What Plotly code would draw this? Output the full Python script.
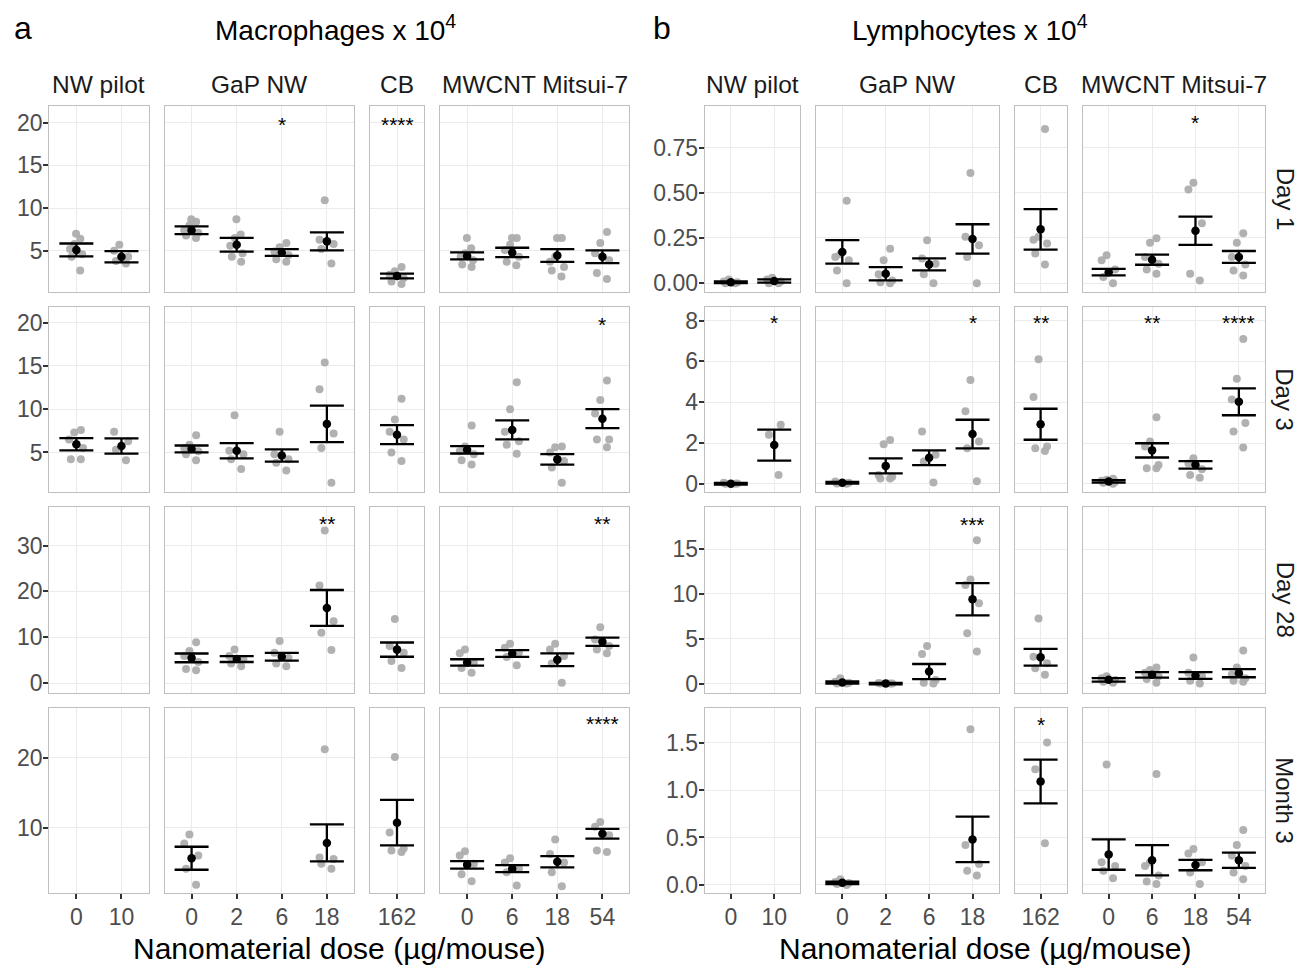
import plotly.graph_objects as go

# ---------------- categories / labels ----------------
GROUPS = ["NW pilot", "GaP NW", "CB", "MWCNT Mitsui-7"]
GROUP_DOSES = [["0", "10"], ["0", "2", "6", "18"], ["162"], ["0", "6", "18", "54"]]
TIMEPOINTS = ["Day 1", "Day 3", "Day 28", "Month 3"]
PANEL_LETTERS = ["a", "b"]
PANEL_TITLES = ["Macrophages x 10<sup>4</sup>", "Lymphocytes x 10<sup>4</sup>"]
X_TITLE = "Nanomaterial dose (µg/mouse)"

# slot order: NW0, NW10, GaP0, GaP2, GaP6, GaP18, CB162, MW0, MW6, MW18, MW54

# ---------------- Macrophages (x 10^4) ----------------
MAC_D1_PTS = [[7.0, 6.4, 5.8, 5.2, 4.6, 4.3, 2.7], [5.7, 5.0, 4.3, 3.8, 3.5],
              [8.7, 8.4, 8.0, 7.4, 7.1, 6.8, 6.5], [8.7, 6.9, 6.5, 5.6, 4.7, 4.3, 3.7],
              [5.9, 5.4, 4.9, 4.5, 4.0, 3.7], [10.9, 6.3, 5.8, 5.2, 3.5],
              [3.1, 2.6, 2.2, 1.8, 1.4, 1.1],
              [6.5, 5.3, 4.7, 4.3, 3.9, 3.4, 3.1], [6.5, 6.5, 5.7, 5.1, 4.3, 3.7, 3.3],
              [6.5, 6.5, 4.3, 3.7, 3.1, 2.7, 2.0], [7.2, 5.9, 4.7, 3.9, 2.4, 1.7]]
MAC_D1_MEAN = [5.1, 4.3, 7.4, 5.7, 4.8, 6.1, 2.05, 4.4, 4.8, 4.45, 4.3]
MAC_D1_SEM = [0.75, 0.65, 0.45, 0.8, 0.4, 1.05, 0.28, 0.4, 0.55, 0.75, 0.75]
MAC_D1_STARS = ["", "", "", "", "*", "", "****", "", "", "", ""]

MAC_D3_PTS = [[7.6, 7.3, 6.5, 5.5, 4.2, 4.2], [7.4, 6.3, 5.3, 4.1],
              [7.0, 5.9, 5.5, 5.15, 4.8, 4.1], [9.3, 5.2, 4.8, 4.2, 3.1],
              [7.4, 4.8, 4.2, 3.8, 2.9], [15.4, 12.3, 7.2, 5.5, 1.5],
              [11.2, 8.8, 7.4, 6.5, 5.0, 4.0],
              [8.1, 5.7, 5.15, 4.8, 4.1, 3.6], [13.1, 10.0, 7.4, 6.3, 5.9, 4.85],
              [5.7, 5.6, 5.0, 4.0, 3.25, 1.5], [13.3, 11.05, 9.5, 6.5, 6.5, 5.6]]
MAC_D3_MEAN = [5.95, 5.75, 5.4, 5.2, 4.65, 8.3, 7.05, 5.3, 7.6, 4.2, 8.9]
MAC_D3_SEM = [0.7, 0.88, 0.4, 0.88, 0.7, 2.1, 1.1, 0.42, 1.1, 0.6, 1.1]
MAC_D3_STARS = ["", "", "", "", "", "", "", "", "", "", "*"]

MAC_D28_PTS = [[], [],
               [8.9, 7.0, 5.9, 4.6, 3.1, 2.8], [7.3, 5.9, 5.2, 4.3, 3.7],
               [9.2, 6.6, 5.5, 4.3, 3.7], [33.3, 21.3, 13.5, 11.0, 7.2],
               [14.0, 8.1, 6.6, 4.8, 3.3],
               [7.3, 6.5, 4.4, 3.3, 2.25], [8.6, 7.7, 6.6, 5.7, 3.9],
               [8.6, 7.3, 5.9, 4.3, 0.1], [12.2, 9.5, 8.1, 7.3, 6.5]]
MAC_D28_MEAN = [None, None, 5.5, 5.25, 5.75, 16.4, 7.3, 4.5, 6.45, 5.1, 9.0]
MAC_D28_SEM = [None, None, 0.95, 0.65, 0.85, 3.9, 1.55, 0.7, 0.75, 1.4, 0.9]
MAC_D28_STARS = ["", "", "", "", "", "**", "", "", "", "", "**"]

MAC_M3_PTS = [[], [],
              [9.0, 7.7, 6.0, 4.1, 1.8], [], [], [21.2, 5.7, 5.5, 4.8, 4.1],
              [20.1, 9.3, 7.0, 6.7, 6.5],
              [6.6, 6.0, 4.8, 3.3, 2.3], [5.6, 5.0, 4.1, 3.6, 1.7],
              [8.3, 6.2, 5.0, 3.6, 1.6], [10.8, 10.1, 8.9, 6.7, 6.5]]
MAC_M3_MEAN = [None, None, 5.6, None, None, 7.8, 10.7, 4.65, 4.1, 5.1, 9.1]
MAC_M3_SEM = [None, None, 1.65, None, None, 2.65, 3.25, 0.55, 0.5, 0.8, 0.7]
MAC_M3_STARS = ["", "", "", "", "", "", "", "", "", "", "****"]

# ---------------- Lymphocytes (x 10^4) ----------------
LYM_D1_PTS = [[0.02, 0.01, 0.005, 0.0, 0.0], [0.03, 0.02, 0.01, 0.0, 0.0],
              [0.456, 0.16, 0.145, 0.127, 0.07, 0.0], [0.19, 0.127, 0.05, 0.015, 0.005, 0.0],
              [0.238, 0.136, 0.108, 0.05, 0.0], [0.61, 0.257, 0.21, 0.145, 0.0],
              [0.853, 0.257, 0.24, 0.22, 0.164, 0.104],
              [0.155, 0.127, 0.075, 0.034, 0.0], [0.248, 0.223, 0.145, 0.108, 0.075, 0.052],
              [0.555, 0.518, 0.331, 0.052, 0.015], [0.276, 0.223, 0.145, 0.104, 0.07, 0.043]]
LYM_D1_MEAN = [0.005, 0.012, 0.173, 0.052, 0.104, 0.245, 0.298, 0.061, 0.13, 0.29, 0.145]
LYM_D1_SEM = [0.005, 0.009, 0.065, 0.037, 0.033, 0.081, 0.112, 0.018, 0.028, 0.078, 0.033]
LYM_D1_STARS = ["", "", "", "", "", "", "", "", "", "*", ""]

LYM_D3_PTS = [[0.05, 0.02, 0.0, 0.0], [2.9, 2.4, 0.43],
              [0.12, 0.05, 0.02, 0.0], [2.15, 1.94, 0.43, 0.35, 0.26, 0.26],
              [2.57, 1.42, 1.09, 0.07], [5.09, 3.56, 2.07, 1.74, 0.13],
              [6.11, 4.25, 1.83, 1.74, 1.61],
              [0.25, 0.2, 0.15, 0.1, 0.05, 0.0], [3.26, 2.07, 1.83, 0.92, 0.76, 0.76],
              [1.25, 1.0, 0.72, 0.43, 0.3], [7.1, 5.15, 4.13, 2.98, 2.57, 1.78]]
LYM_D3_MEAN = [0.0, 1.9, 0.05, 0.88, 1.28, 2.44, 2.92, 0.12, 1.64, 0.93, 4.02]
LYM_D3_SEM = [0.04, 0.76, 0.04, 0.37, 0.36, 0.7, 0.76, 0.06, 0.35, 0.18, 0.66]
LYM_D3_STARS = ["", "*", "", "", "", "*", "**", "", "**", "", "****"]

LYM_D28_PTS = [[], [],
               [0.6, 0.2, 0.1, 0.0, 0.0], [0.05, 0.0, 0.0, 0.0],
               [4.2, 3.3, 0.4, 0.1, 0.0], [16.0, 11.6, 11.0, 8.96, 5.6, 3.57],
               [7.25, 3.0, 2.27, 1.7, 0.97],
               [0.8, 0.6, 0.4, 0.2, 0.1], [1.8, 1.5, 1.2, 0.8, 0.5, 0.1],
               [2.9, 1.2, 0.8, 0.3, 0.0], [3.7, 1.8, 1.0, 0.6, 0.3, 0.2]]
LYM_D28_MEAN = [None, None, 0.12, 0.0, 1.34, 9.4, 2.94, 0.41, 0.97, 0.9, 1.15]
LYM_D28_SEM = [None, None, 0.12, 0.08, 0.84, 1.8, 0.93, 0.19, 0.3, 0.37, 0.45]
LYM_D28_STARS = ["", "", "", "", "", "***", "", "", "", "", ""]

LYM_M3_PTS = [[], [],
              [0.06, 0.03, 0.02, 0.01, 0.0], [], [], [1.64, 0.42, 0.22, 0.15, 0.1],
              [1.5, 1.22, 0.44],
              [1.27, 0.24, 0.2, 0.15, 0.07], [1.17, 0.24, 0.2, 0.1, 0.035, 0.01],
              [0.38, 0.33, 0.24, 0.13, 0.01], [0.58, 0.42, 0.31, 0.2, 0.13, 0.06]]
LYM_M3_MEAN = [None, None, 0.022, None, None, 0.48, 1.09, 0.32, 0.26, 0.21, 0.26]
LYM_M3_SEM = [None, None, 0.012, None, None, 0.24, 0.23, 0.16, 0.16, 0.055, 0.08]
LYM_M3_STARS = ["", "", "", "", "", "", "*", "", "", "", ""]

# star label heights (data units) per time point
MAC_STAR_Y = [20.4, 20.4, 35.8, 25.6]
LYM_STAR_Y = [0.918, 8.16, 18.3, 1.74]

PANELS = [
    dict(pts=[MAC_D1_PTS, MAC_D3_PTS, MAC_D28_PTS, MAC_M3_PTS],
         mean=[MAC_D1_MEAN, MAC_D3_MEAN, MAC_D28_MEAN, MAC_M3_MEAN],
         sem=[MAC_D1_SEM, MAC_D3_SEM, MAC_D28_SEM, MAC_M3_SEM],
         stars=[MAC_D1_STARS, MAC_D3_STARS, MAC_D28_STARS, MAC_M3_STARS],
         star_y=MAC_STAR_Y),
    dict(pts=[LYM_D1_PTS, LYM_D3_PTS, LYM_D28_PTS, LYM_M3_PTS],
         mean=[LYM_D1_MEAN, LYM_D3_MEAN, LYM_D28_MEAN, LYM_M3_MEAN],
         sem=[LYM_D1_SEM, LYM_D3_SEM, LYM_D28_SEM, LYM_M3_SEM],
         stars=[LYM_D1_STARS, LYM_D3_STARS, LYM_D28_STARS, LYM_M3_STARS],
         star_y=LYM_STAR_Y),
]

# ---------------- layout / style ----------------
PAGE_W, PAGE_H = 1308, 965
BODY_MARGIN = 8          # default page margin around the plot div
W, H = PAGE_W - BODY_MARGIN, PAGE_H - BODY_MARGIN
FONT = "Liberation Sans, Arial, sans-serif"
PANEL_X0 = [49.3, 704.8]
UNIT = [45.1, 43.4]
GAP = 16
ROW_TOP = [106, 306.5, 507, 707.5]
ROW_H = 185.5
Y_RANGES = [
    [[0.23, 21.95], [0.43, 21.86], [-2.05, 38.4], [0.62, 27.2]],
    [[-0.046, 0.98], [-0.40, 8.69], [-1.0, 19.7], [-0.085, 1.87]],
]
Y_TICKS = [
    [[5, 10, 15, 20], [5, 10, 15, 20], [0, 10, 20, 30], [10, 20]],
    [[0, 0.25, 0.5, 0.75], [0, 2, 4, 6, 8], [0, 5, 10, 15], [0, 0.5, 1.0, 1.5]],
]
Y_FMT = [["d", "d", "d", "d"], [".2f", "d", "d", ".1f"]]
PT_COLOR = "#ADADAD"
GRID = "#EBEBEB"
BORDER = "#BFBFBF"
TICK_COLOR = "#333333"
TICK_FONT = dict(family=FONT, size=23, color="#4D4D4D")


def PX(x_px):
    return (x_px - BODY_MARGIN) / W


def PY(y_px):
    return 1 - (y_px - BODY_MARGIN) / H


def paper_text(x_px, y_px, text, size, color="black", **kw):
    d = dict(x=PX(x_px), y=PY(y_px), xref="paper", yref="paper",
             xanchor="center", yanchor="middle", text=text, showarrow=False,
             font=dict(family=FONT, size=size, color=color))
    d.update(kw)
    return d


fig = go.Figure()
layout = {}
annotations = []

slots = [(g, d) for g in range(len(GROUPS)) for d in GROUP_DOSES[g]]

for p, panel in enumerate(PANELS):
    col_dom = []
    x = PANEL_X0[p]
    for g in range(len(GROUPS)):
        w = (len(GROUP_DOSES[g]) - 1 + 1.2) * UNIT[p]
        col_dom.append((x, x + w))
        x += w + GAP
    for r in range(4):
        y_top = ROW_TOP[r]
        y_bot = y_top + ROW_H
        for g in range(len(GROUPS)):
            k = p * 16 + r * 4 + g + 1
            xa = "x" if k == 1 else f"x{k}"
            ya = "y" if k == 1 else f"y{k}"
            doses = GROUP_DOSES[g]
            idxs = [i for i, s in enumerate(slots) if s[0] == g]
            # invisible anchor trace so that every facet (also empty ones) is drawn
            fig.add_trace(go.Scatter(x=doses, y=[None] * len(doses), xaxis=xa, yaxis=ya,
                                     mode="markers", showlegend=False, hoverinfo="skip"))
            # individual points (jittered by plotly's box-point jitter)
            for i in idxs:
                vals = panel["pts"][r][i]
                if not vals:
                    continue
                fig.add_trace(go.Box(
                    x=[slots[i][1]] * len(vals), y=vals, xaxis=xa, yaxis=ya,
                    boxpoints="all", jitter=0.55, pointpos=0, width=0.7,
                    fillcolor="rgba(0,0,0,0)", line=dict(width=0, color="rgba(0,0,0,0)"),
                    marker=dict(color=PT_COLOR, size=8, opacity=0.95),
                    showlegend=False, hoverinfo="y"))
            # mean +/- SEM
            mx = [slots[i][1] for i in idxs if panel["mean"][r][i] is not None]
            my = [panel["mean"][r][i] for i in idxs if panel["mean"][r][i] is not None]
            me = [panel["sem"][r][i] for i in idxs if panel["mean"][r][i] is not None]
            if mx:
                fig.add_trace(go.Scatter(
                    x=mx, y=my, xaxis=xa, yaxis=ya, mode="markers",
                    marker=dict(color="black", size=8.5),
                    error_y=dict(type="data", array=me, visible=True,
                                 color="black", thickness=2.3, width=17),
                    showlegend=False))
            # significance stars (category axes use the category index as coordinate)
            for i in idxs:
                s = panel["stars"][r][i]
                if s:
                    annotations.append(dict(
                        x=doses.index(slots[i][1]), y=panel["star_y"][r], xref=xa, yref=ya,
                        xanchor="center", yanchor="middle",
                        text=s, showarrow=False, yshift=-5,
                        font=dict(family=FONT, size=21, color="black")))
            bottom = r == 3
            first = g == 0
            layout[f"xaxis{k}"] = dict(
                domain=[PX(col_dom[g][0]), PX(col_dom[g][1])],
                anchor=ya, type="category", categoryorder="array",
                categoryarray=doses, range=[-0.6, len(doses) - 0.4],
                showgrid=True, gridcolor=GRID, gridwidth=1.3,
                showline=True, mirror=True, linecolor=BORDER, linewidth=1.3,
                ticks="outside" if bottom else "", ticklen=5, tickwidth=2,
                tickcolor=TICK_COLOR, showticklabels=bottom, tickfont=TICK_FONT,
                ticklabelstandoff=-2,
                zeroline=False, automargin=False, fixedrange=True)
            layout[f"yaxis{k}"] = dict(
                domain=[PY(y_bot), PY(y_top)],
                anchor=xa, range=Y_RANGES[p][r],
                tickmode="array", tickvals=Y_TICKS[p][r], tickformat=Y_FMT[p][r],
                showgrid=True, gridcolor=GRID, gridwidth=1.3,
                showline=True, mirror=True, linecolor=BORDER, linewidth=1.3,
                ticks="outside" if first else "", ticklen=5, tickwidth=2,
                tickcolor=TICK_COLOR, showticklabels=first, tickfont=TICK_FONT,
                ticklabelstandoff=-4,
                zeroline=False, automargin=False, fixedrange=True)
        if p == 1:
            annotations.append(paper_text(1285, y_top + ROW_H / 2, TIMEPOINTS[r], 24,
                                          "#1A1A1A", textangle=90))
    for g in range(len(GROUPS)):
        annotations.append(paper_text((col_dom[g][0] + col_dom[g][1]) / 2, 84,
                                      GROUPS[g], 24.5, "#1A1A1A"))
    annotations.append(paper_text([12, 651][p], 28, PANEL_LETTERS[p], 32, xanchor="left"))
    annotations.append(paper_text([335, 970][p], 28, PANEL_TITLES[p], 28))
    annotations.append(paper_text((col_dom[0][0] + col_dom[-1][1]) / 2, 948, X_TITLE, 30))

layout["xaxis"] = layout.pop("xaxis1")
layout["yaxis"] = layout.pop("yaxis1")

fig.update_layout(
    width=W, height=H, margin=dict(l=0, r=0, t=0, b=0),
    paper_bgcolor="white", plot_bgcolor="white",
    showlegend=False, boxmode="overlay",
    font=dict(family=FONT),
    annotations=annotations, **layout)

fig.write_html("out.html")
